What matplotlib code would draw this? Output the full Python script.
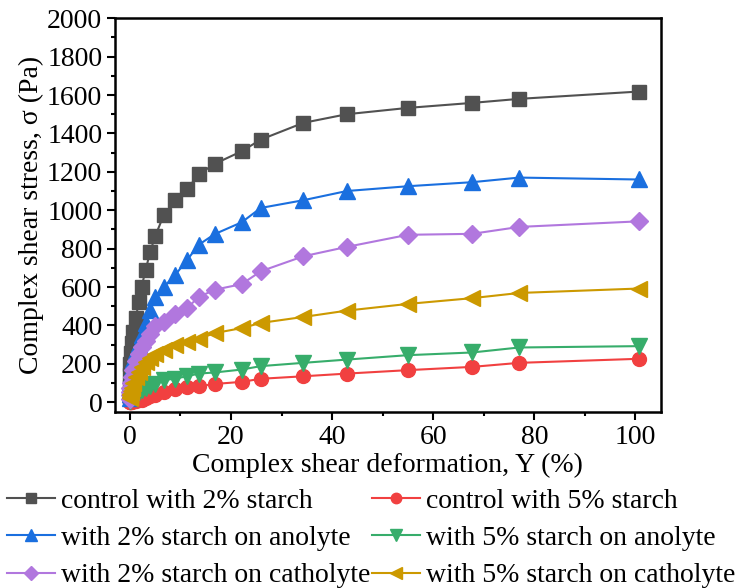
import matplotlib
matplotlib.use("Agg")
import matplotlib.pyplot as plt
from matplotlib.ticker import MultipleLocator

plt.rcParams['font.family'] = ['Liberation Serif', 'DejaVu Serif']
plt.rcParams['font.size'] = 20

# strain amplitude (%) shared by all sweeps
strain = [0.01, 0.03, 0.06, 0.1, 0.2, 0.4, 0.7, 1.2, 1.7, 2.3,
          3.1, 4.0, 5.0, 6.7, 8.9, 11.3, 13.6, 16.8, 22.1, 25.9,
          34.3, 42.9, 55.0, 67.7, 77.0, 100.6]

# complex shear stress (Pa)
ctrl_2 = [30, 80, 140, 200, 255, 307, 366, 439, 520, 600,
          688, 783, 865, 975, 1052, 1109, 1187, 1242, 1307, 1368,
          1455, 1500, 1533, 1559, 1580, 1618]
ctrl_5 = [1, 1, 2, 2, 3, 3, 4, 6, 9, 14,
          22, 30, 40, 54, 68, 77, 83, 95, 106, 122,
          135, 149, 167, 184, 205, 226]
anol_2 = [20, 45, 70, 100, 140, 180, 220, 265, 305, 350,
          410, 479, 550, 600, 661, 740, 820, 876, 937, 1012,
          1052, 1100, 1125, 1146, 1170, 1160]
anol_5 = [5, 7, 9, 12, 18, 25, 34, 44, 54, 65,
          75, 85, 97, 115, 123, 135, 149, 155, 170, 188,
          205, 222, 245, 259, 285, 292]
cath_2 = [15, 35, 55, 75, 100, 130, 170, 215, 250, 288,
          320, 357, 398, 418, 457, 490, 548, 586, 615, 682,
          760, 809, 872, 877, 913, 942]
cath_5 = [20, 28, 36, 45, 58, 75, 100, 132, 158, 184,
          210, 232, 253, 271, 297, 314, 330, 360, 386, 413,
          444, 477, 512, 542, 569, 592]

labels = ["control with 2% starch", "with 2% starch on anolyte",
          "with 2% starch on catholyte", "control with 5% starch",
          "with 5% starch on anolyte", "with 5% starch on catholyte"]
series = [ctrl_2, anol_2, cath_2, ctrl_5, anol_5, cath_5]
colors = ['#515151', '#1A6FDF', '#B177DE', '#F14040', '#37AD6B', '#CC9900']
markers = ['s', '^', 'D', 'o', 'v', '<']
sizes = [10, 11, 9, 10, 11, 11]

fig = plt.figure(figsize=(7.5, 5.88), dpi=100)
ax = fig.add_axes([0.153, 0.299, 0.728, 0.670])

# draw in the stacking order of the original sheet
order = [0, 3, 1, 4, 2, 5]
handles = [None] * 6
for i in order:
    h, = ax.plot(strain, series[i], color=colors[i], marker=markers[i],
                 markersize=sizes[i], linewidth=1.5, label=labels[i])
    handles[i] = h

ax.set_xlim(-3, 105)
ax.set_ylim(-52, 2000)
ax.xaxis.set_major_locator(MultipleLocator(20))
ax.xaxis.set_minor_locator(MultipleLocator(10))
ax.yaxis.set_major_locator(MultipleLocator(200))
ax.yaxis.set_minor_locator(MultipleLocator(100))
ax.tick_params(which='both', direction='out', width=1.5, top=False, right=False)
ax.tick_params(which='major', length=6, pad=3)
ax.tick_params(which='minor', length=3)
for s in ax.spines.values():
    s.set_linewidth(1.8)

ax.set_xlabel("Complex shear deformation, Y (%)", labelpad=2)
ax.set_ylabel("Complex shear stress, σ (Pa)", labelpad=2)

fig.legend(handles=handles, labels=labels, ncol=2, frameon=False,
           loc='upper left', bbox_to_anchor=(-0.006, 0.188),
           fontsize=20, handlelength=1.75, handletextpad=0.2,
           columnspacing=0.05, labelspacing=0.42, borderaxespad=0,
           markerscale=0.75)

fig.savefig("out.png", dpi=100)
